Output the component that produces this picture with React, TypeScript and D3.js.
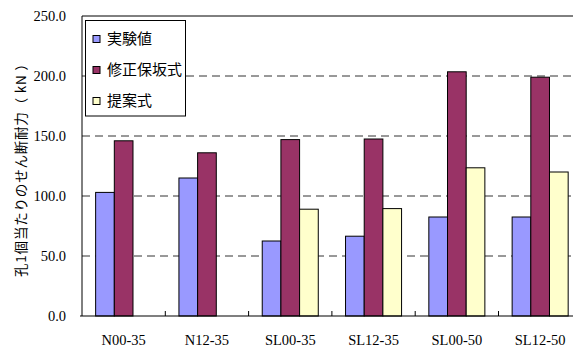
import React from "react";
import * as d3 from "d3";

const categories = ["N00-35", "N12-35", "SL00-35", "SL12-35", "SL00-50", "SL12-50"];
const seriesNames = ["実験値", "修正保坂式", "提案式"];
const experimental = [103, 115, 62.5, 66.5, 82.5, 82.5];
const hosaka = [146, 136, 147, 147.5, 203.5, 199];
const proposed: (number | null)[] = [null, null, 89, 89.5, 123.5, 120];
const yTicks = [0, 50, 100, 150, 200, 250];
const colors = ["#9999FF", "#993366", "#FFFFCC"];

export default function App() {
  const W = 573, H = 347;
  const left = 82, top = 16, bottom = 316;
  const catW = 83.3;
  const x = d3.scaleBand<string>().domain(categories).range([left, left + catW * categories.length]).paddingInner(0).paddingOuter(0);
  const y = d3.scaleLinear().domain([0, 250]).range([bottom, top]);
  const inner = d3.scaleBand<number>().domain([0, 1, 2]).range([0, catW]).paddingInner(0).paddingOuter(0.73);
  const data = [experimental, hosaka, proposed];
  const serif = "'Liberation Serif', 'DejaVu Serif', serif";
  const sans = "'Noto Sans CJK JP', 'Noto Sans', sans-serif";

  return (
    <svg width={W} height={H} style={{ position: "absolute", left: 0, top: 0, background: "#fff" }}>
      {yTicks.filter(t => t > 0 && t < 250).map(t => (
        <line key={t} x1={left} x2={W} y1={y(t)} y2={y(t)} stroke="#333" strokeWidth={1} strokeDasharray="8,5" />
      ))}
      <line x1={left} x2={W} y1={top} y2={top} stroke="#000" strokeWidth={1} />
      {categories.map((c, i) => (
        <g key={c} transform={`translate(${x(c)},0)`}>
          {data.map((s, k) => {
            const v = s[i];
            if (v == null) return null;
            return (
              <rect key={k} x={inner(k)} y={y(v)} width={inner.bandwidth()} height={bottom - y(v)}
                fill={colors[k]} stroke="#000" strokeWidth={1} />
            );
          })}
        </g>
      ))}
      <line x1={left} x2={left} y1={top} y2={bottom} stroke="#000" strokeWidth={1} />
      <line x1={left - 2} x2={W} y1={bottom} y2={bottom} stroke="#000" strokeWidth={1.2} />
      {categories.slice(1).map(c => (
        <line key={c} x1={x(c)} x2={x(c)} y1={bottom} y2={bottom - 5} stroke="#000" strokeWidth={1} />
      ))}
      {yTicks.map(t => (
        <text key={t} x={66} y={y(t)} dy="0.35em" textAnchor="end" fontFamily={serif} fontSize={14.5}>
          {t.toFixed(1)}
        </text>
      ))}
      {categories.map(c => (
        <text key={c} x={(x(c) as number) + catW / 2} y={345} textAnchor="middle" fontFamily={serif} fontSize={14.5}>
          {c}
        </text>
      ))}
      <text transform={`translate(25.5,167) rotate(-90)`} textAnchor="middle" fontFamily={sans} fontSize={13.5}
        textLength={220} lengthAdjust="spacing">
        孔1個当たりのせん断耐力（ kN ）
      </text>
      <rect x={85.5} y={20.5} width={100} height={95.5} fill="#fff" stroke="#000" strokeWidth={1} />
      {seriesNames.map((n, k) => (
        <g key={n} transform={`translate(93,${39 + k * 31})`}>
          <rect x={0} y={-3.5} width={7} height={7} fill={colors[k]} stroke="#000" strokeWidth={1} />
          <text x={14} y={0} dy="0.35em" fontFamily={sans} fontSize={15}>{n}</text>
        </g>
      ))}
    </svg>
  );
}
